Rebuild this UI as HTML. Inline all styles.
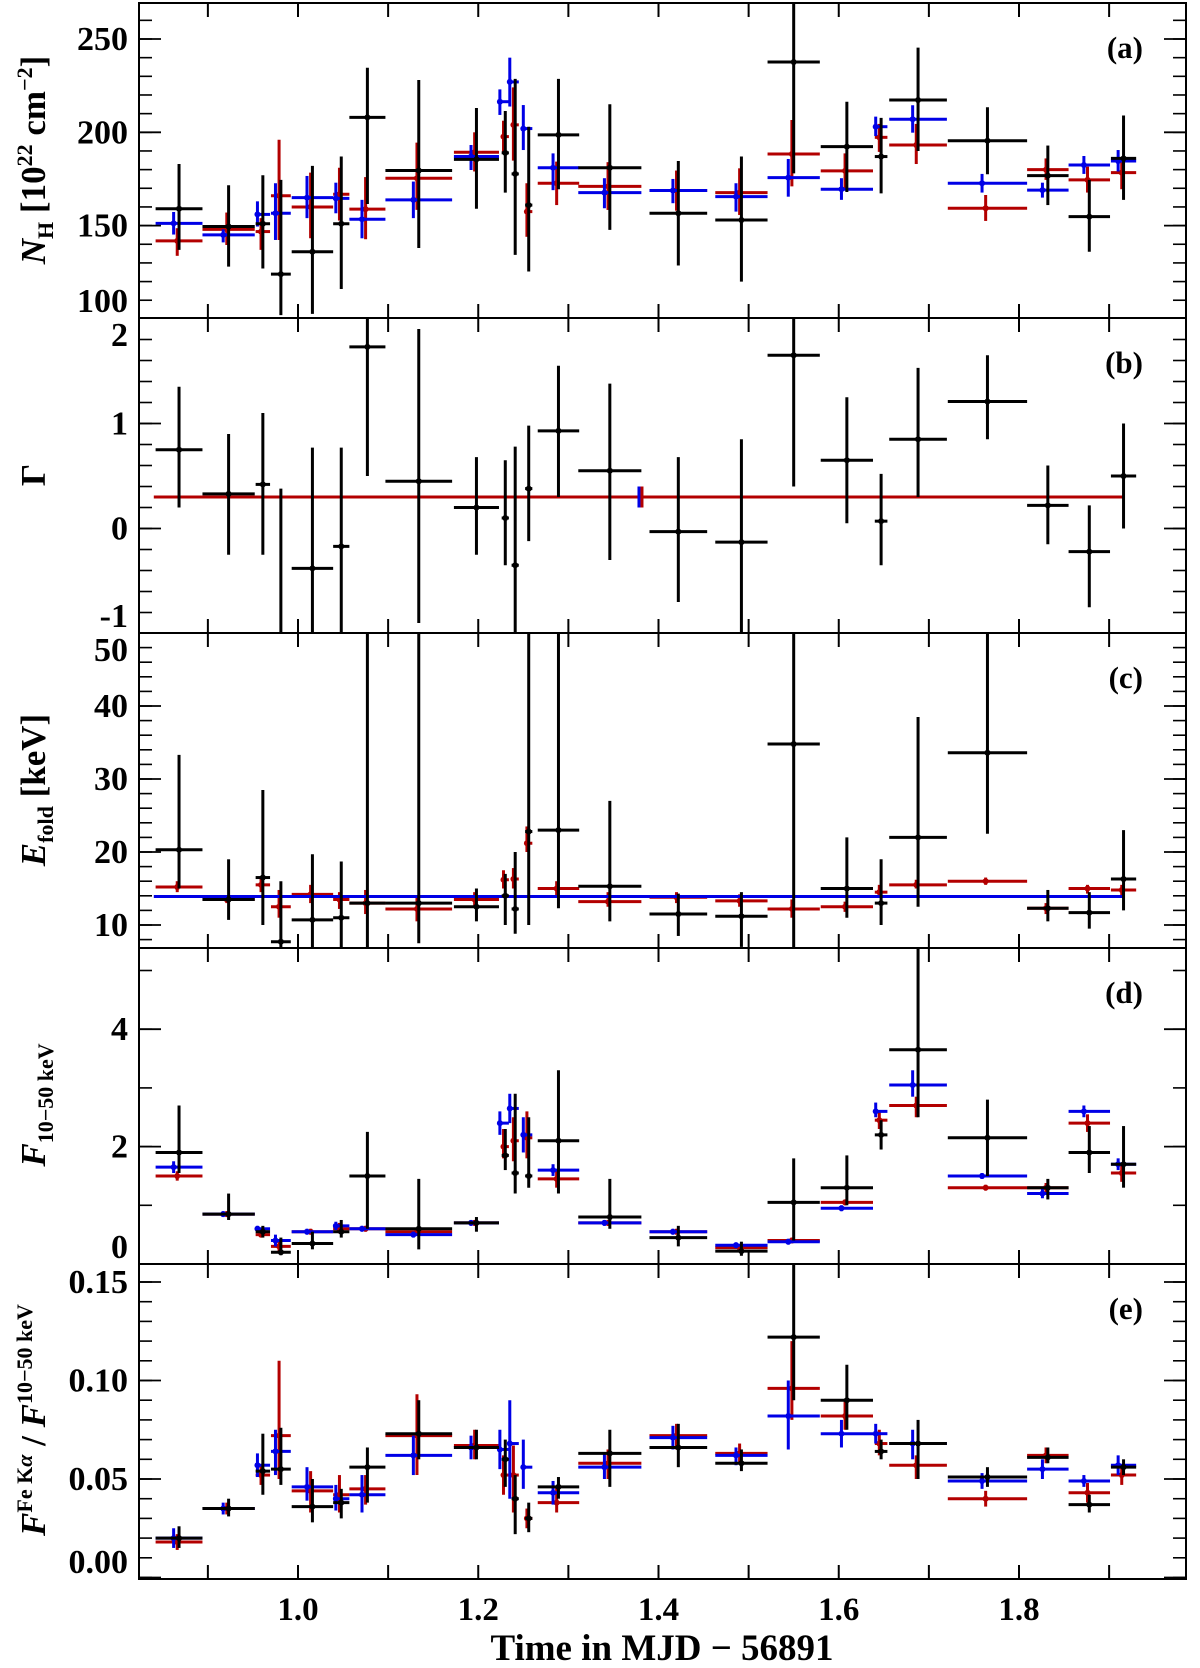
<!DOCTYPE html>
<html><head><meta charset="utf-8"><style>
body{margin:0;background:#fff;}
svg{display:block;font-family:"Liberation Serif",serif;}
</style></head><body>
<svg id="chart" width="1200" height="1668" viewBox="0 0 1200 1668" xmlns="http://www.w3.org/2000/svg">
<rect width="1200" height="1668" fill="#fff"/>
</svg>
<script>
// ---------- data ----------
const binCenters=[0.868,0.923,0.961,0.981,1.016,1.048,1.077,1.134,1.198,1.230,1.241,1.256,1.289,1.346,1.422,1.492,1.550,1.609,1.647,1.688,1.765,1.832,1.878,1.916];
const binHalf=[0.026,0.029,0.008,0.011,0.023,0.009,0.02,0.037,0.025,0.004,0.004,0.004,0.023,0.035,0.032,0.029,0.029,0.029,0.007,0.032,0.044,0.023,0.023,0.014];

// panel a: NH
const nhBlack=[159,149.5,151,124,136,151,208,179.5,185.5,189,177.7,161,198.6,181,156.6,153,237.7,192.3,187,217.3,195.5,176.8,154.8,186];
const nhBlackLo=[137,128,127,102,102.7,116,161.6,138,159,167.7,134.3,125.4,169.5,147.7,128.6,120,178,168,167.3,190,177.5,161,136,163.8];
const nhBlackHi=[183,171.6,177,174.5,182,187,234.6,228,213,211.4,228.6,203,228.6,215,184.6,187,275,216.4,207.7,245.4,213.4,192.9,174.5,209];
const nhRed=[141.8,148,146.8,166,160,166.8,158.8,175.4,189.3,197.7,204,157.5,172.7,171,168.8,167.7,188.4,179.3,197.3,193.2,159.3,180,174.5,178.4];
const nhRedLo=[133.8,139.6,137,142.3,143.2,152.7,142.7,158.4,179,188.7,184.8,144,161,158.4,158,155.7,171,169,189.5,183,152.5,174.5,167.7,169.5];
const nhRedHi=[148.6,157,154,196,178.4,181,176,194.5,200,206.2,224.1,172.7,184.3,184,179.5,180.7,206.6,188.7,204.5,204.5,166.4,186,181.6,185];
const nhBlue=[151.2,145,156,156.6,165,164.6,153.4,163.8,187,216.4,227,202,181,167.7,168.8,165.5,175.7,169.5,203,207,172.7,169,182.5,184.6];
const nhBlueLo=[145.2,141,149.5,142.3,154,156.6,143.2,154,179.8,209.3,213.8,190.5,169,159.3,162,157.5,165.5,163.8,198,199.8,167.7,165,177.7,179];
const nhBlueHi=[157.3,148,163,172.7,176.6,173,163.8,173.6,193.2,223,240,214.6,188.7,175.4,175,172.7,185.7,175.4,208.4,214.5,177.7,173,187.3,190.5];

// panel b: Gamma
const gamBlack=[0.75,0.33,0.42,-1.03,-0.38,-0.17,1.73,0.45,0.2,0.1,-0.35,0.38,0.93,0.55,-0.03,-0.13,1.65,0.65,0.07,0.85,1.21,0.22,-0.22,0.5];
const gamBlackLo=[0.2,-0.25,-0.25,-1.3,-1.3,-1.3,0.5,-0.9,-0.25,-0.35,-1.3,-0.12,0.3,-0.3,-0.7,-1.0,0.4,0.05,-0.35,0.3,0.85,-0.15,-0.75,0.0];
const gamBlackHi=[1.35,0.9,1.1,0.38,0.77,0.77,2.3,1.9,0.68,0.65,0.78,0.98,1.55,1.38,0.68,0.85,2.3,1.25,0.52,1.53,1.65,0.6,0.22,1.0];
const gamFixed=[0.3];
const gamFixedRange=[0.84,1.915];
const gamMarkX=[1.38];
const gamMarkLo=[0.2];
const gamMarkHi=[0.4];

// panel c: Efold
const efBlack=[20.3,13.5,16.5,7.7,10.7,11,13,13,12.5,14,12.2,22.8,23,15.3,11.5,11.2,34.8,15,13,22,33.6,12.3,11.7,16.3];
const efBlackLo=[15,10.7,10,6,6,6,6,7.5,10.5,10,8.8,10,12.3,10.5,8.5,7,6,11,10,12.5,22.5,10.5,9.5,12];
const efBlackHi=[33.3,19,28.5,16,19.7,18.7,55,50.5,15,17,20,55,50.5,27,14.3,14.5,55,22,19,38.5,55,14.8,14.5,23];
const efRed=[15.2,13.5,15.5,12.5,14.2,13.5,13,12.2,13.5,16.2,16.3,21.2,15,13.2,13.8,13.3,12.2,12.5,14.5,15.5,16,12.3,15,14.8];
const efRedLo=[14.5,13,14.5,11,13,12.2,11.5,10.5,12.5,15,15,20,14,12.5,13,12.5,11,11.8,14,15,15.5,11.5,14.3,14];
const efRedHi=[16,14,16.5,14.8,15.5,14.5,14.8,14,14.5,17.5,17.8,23.5,16,14.5,14.5,14.2,13.5,13.2,15.5,16.2,16.5,13,15.5,15.5];
const efBlueFixed=[13.9];

// panel d: F 10-50 keV
const fBlack=[1.9,0.85,0.55,0.2,0.35,0.55,1.5,0.6,0.7,1.85,1.55,1.5,2.1,0.8,0.45,0.22,1.05,1.3,2.2,3.65,2.15,1.3,1.9,1.7];
const fBlackLo=[1.55,0.75,0.45,0.15,0.25,0.45,0.6,0.25,0.55,1.6,1.2,1.3,1.2,0.6,0.3,0.14,0.4,1.0,1.95,2.5,1.5,1.1,1.55,1.3];
const fBlackHi=[2.7,1.2,0.65,0.45,0.55,0.75,2.25,1.45,0.8,2.3,2.9,2.5,3.3,1.45,0.65,0.38,1.8,1.85,2.45,5.6,2.8,1.45,2.35,2.35];
const fRed=[1.5,0.85,0.5,0.3,0.55,0.6,0.6,0.55,0.7,2.0,2.1,2.15,1.45,0.7,0.55,0.28,0.4,1.05,2.45,2.7,1.3,1.3,2.4,1.55];
const fRedLo=[1.42,0.8,0.45,0.22,0.5,0.52,0.55,0.5,0.65,1.8,1.75,1.8,1.3,0.65,0.5,0.23,0.35,1.0,2.3,2.5,1.25,1.22,2.25,1.4];
const fRedHi=[1.58,0.9,0.58,0.4,0.6,0.7,0.65,0.6,0.75,2.3,2.5,2.6,1.6,0.75,0.6,0.33,0.45,1.1,2.6,2.85,1.35,1.38,2.55,1.7];
const fBlue=[1.65,0.85,0.6,0.4,0.55,0.65,0.6,0.5,0.7,2.4,2.65,2.2,1.6,0.7,0.55,0.32,0.38,0.95,2.6,3.05,1.5,1.2,2.6,1.7];
const fBlueLo=[1.55,0.8,0.55,0.3,0.5,0.58,0.55,0.45,0.65,2.2,2.4,1.9,1.5,0.65,0.5,0.27,0.33,0.9,2.5,2.85,1.45,1.12,2.5,1.6];
const fBlueHi=[1.75,0.9,0.65,0.5,0.6,0.72,0.65,0.55,0.75,2.6,2.9,2.5,1.7,0.75,0.6,0.37,0.43,1.0,2.75,3.3,1.55,1.28,2.7,1.8];

// panel e: Fe Ka ratio
const rBlack=[0.02,0.035,0.054,0.055,0.036,0.038,0.056,0.073,0.066,0.06,0.04,0.03,0.046,0.063,0.066,0.058,0.122,0.09,0.064,0.068,0.051,0.061,0.037,0.056];
const rBlackLo=[0.015,0.031,0.042,0.047,0.028,0.03,0.038,0.06,0.06,0.046,0.022,0.023,0.04,0.046,0.056,0.054,0.09,0.075,0.06,0.05,0.046,0.058,0.033,0.052];
const rBlackHi=[0.026,0.04,0.073,0.076,0.05,0.045,0.066,0.09,0.075,0.07,0.052,0.038,0.051,0.075,0.078,0.065,0.16,0.108,0.07,0.08,0.056,0.066,0.042,0.06];
const rRed=[0.018,0.035,0.052,0.072,0.044,0.042,0.045,0.072,0.067,0.052,0.052,0.03,0.038,0.058,0.072,0.063,0.096,0.082,0.068,0.057,0.04,0.062,0.043,0.052];
const rRedLo=[0.014,0.032,0.047,0.05,0.033,0.033,0.037,0.052,0.06,0.042,0.033,0.025,0.033,0.05,0.065,0.058,0.08,0.075,0.062,0.05,0.036,0.058,0.038,0.047];
const rRedHi=[0.022,0.038,0.057,0.11,0.054,0.052,0.052,0.093,0.075,0.062,0.067,0.035,0.046,0.065,0.078,0.068,0.12,0.09,0.075,0.062,0.044,0.066,0.048,0.057];
const rBlue=[0.02,0.035,0.057,0.064,0.046,0.04,0.042,0.062,0.066,0.065,0.068,0.056,0.043,0.056,0.071,0.062,0.082,0.073,0.073,0.068,0.049,0.055,0.049,0.057];
const rBlueLo=[0.015,0.032,0.051,0.052,0.039,0.034,0.033,0.052,0.06,0.055,0.04,0.045,0.037,0.05,0.065,0.057,0.065,0.066,0.068,0.06,0.045,0.05,0.046,0.052];
const rBlueHi=[0.025,0.038,0.063,0.075,0.056,0.047,0.052,0.072,0.072,0.075,0.09,0.07,0.049,0.063,0.077,0.066,0.1,0.08,0.078,0.075,0.053,0.06,0.052,0.062];

const xTickValues=[0.9,1.0,1.1,1.2,1.3,1.4,1.5,1.6,1.7,1.8,1.9];
const xTickLabels=["1.0","1.2","1.4","1.6","1.8"];

// ---------- layout ----------
const NS="http://www.w3.org/2000/svg";
const svg=document.getElementById('chart');
const L=139,R=1186;
const xs=v=>298+(v-1)*901.25;
const RED="#b30000",BLUE="#0000e6",BLACK="#000";
function mk(tag,attrs,parent){const e=document.createElementNS(NS,tag);for(const k in attrs)e.setAttribute(k,attrs[k]);(parent||svg).appendChild(e);return e;}

const panels=[
 {id:'a',top:3,bot:318,y:v=>39+(250-v)*1.866,major:[100,150,200,250],minor:{from:100,to:260,step:10},fmt:v=>String(v)},
 {id:'b',top:318,bot:633,y:v=>528.5-v*105,major:[-1,0,1,2],minor:{from:-1.2,to:2,step:0.2},fmt:v=>String(v)},
 {id:'c',top:633,bot:948,y:v=>925-(v-10)*7.3,major:[10,20,30,40,50],minor:{from:8,to:50,step:2},fmt:v=>String(v)},
 {id:'d',top:948,bot:1264,y:v=>1264-v*58.7,major:[0,2,4],minor:{from:0,to:5,step:1},fmt:v=>String(v)},
 {id:'e',top:1264,bot:1579,y:v=>1282-(v-0.15)*1970,major:[0,0.05,0.1,0.15],minor:{from:0,to:0.15,step:0.01},fmt:v=>v.toFixed(2)}
];

const defs=mk('defs',{});
panels.forEach(p=>{
  const cp=mk('clipPath',{id:'clip-'+p.id},defs);
  mk('rect',{x:L,y:p.top,width:R-L,height:p.bot-p.top},cp);
});

function series(p,g,vals,lo,hi,color,dx){
  for(let i=0;i<vals.length;i++){
    const c=binCenters[i],w=binHalf[i];
    const cx=xs(c+dx);
    const h=mk('line',{x1:xs(c-w),x2:xs(c+w),y1:p.y(vals[i]),y2:p.y(vals[i]),stroke:color,'stroke-width':3},g);
    
    
    const v=mk('line',{x1:cx,x2:cx,y1:p.y(lo[i]),y2:p.y(hi[i]),stroke:color,'stroke-width':3},g);
    
    
    const d=mk('circle',{cx:cx,cy:p.y(vals[i]),r:3,fill:color},g);
    
    
  }
}

panels.forEach((p,pi)=>{
  const g=mk('g',{'clip-path':'url(#clip-'+p.id+')'});
  
  
  if(p.id==='a'){series(p,g,nhRed,nhRedLo,nhRedHi,RED,-0.002);series(p,g,nhBlue,nhBlueLo,nhBlueHi,BLUE,-0.006);series(p,g,nhBlack,nhBlackLo,nhBlackHi,BLACK,0);}
  if(p.id==='b'){
    const fl=mk('line',{x1:xs(gamFixedRange[0]),x2:xs(gamFixedRange[1]),y1:p.y(gamFixed[0]),y2:p.y(gamFixed[0]),stroke:RED,'stroke-width':3},g);
    
    
    const m1=mk('line',{x1:xs(gamMarkX[0])-1.5,x2:xs(gamMarkX[0])-1.5,y1:p.y(gamMarkLo[0]),y2:p.y(gamMarkHi[0]),stroke:BLUE,'stroke-width':3},g);
    
    
    const m2=mk('line',{x1:xs(gamMarkX[0])+1.5,x2:xs(gamMarkX[0])+1.5,y1:p.y(gamMarkLo[0]),y2:p.y(gamMarkHi[0]),stroke:RED,'stroke-width':3},g);
    
    
    series(p,g,gamBlack,gamBlackLo,gamBlackHi,BLACK,0);
  }
  if(p.id==='c'){
    series(p,g,efRed,efRedLo,efRedHi,RED,-0.002);
    const bl=mk('line',{x1:xs(gamFixedRange[0]),x2:xs(gamFixedRange[1]),y1:p.y(efBlueFixed[0]),y2:p.y(efBlueFixed[0]),stroke:BLUE,'stroke-width':3},g);
    
    
    series(p,g,efBlack,efBlackLo,efBlackHi,BLACK,0);
  }
  if(p.id==='d'){series(p,g,fRed,fRedLo,fRedHi,RED,-0.002);series(p,g,fBlue,fBlueLo,fBlueHi,BLUE,-0.006);series(p,g,fBlack,fBlackLo,fBlackHi,BLACK,0);}
  if(p.id==='e'){series(p,g,rRed,rRedLo,rRedHi,RED,-0.002);series(p,g,rBlue,rBlueLo,rBlueHi,BLUE,-0.006);series(p,g,rBlack,rBlackLo,rBlackHi,BLACK,0);}

  // frame
  const fr=mk('rect',{x:L,y:p.top,width:R-L,height:p.bot-p.top,fill:'none',stroke:'#000','stroke-width':2});
  
  
  // x ticks
  xTickValues.forEach(t=>{
    mk('line',{x1:xs(t),x2:xs(t),y1:p.top,y2:p.top+14,stroke:'#000','stroke-width':2});
    mk('line',{x1:xs(t),x2:xs(t),y1:p.bot,y2:p.bot-14,stroke:'#000','stroke-width':2});
  });
  // y minor ticks
  for(let v=p.minor.from;v<=p.minor.to+1e-9;v+=p.minor.step){
    const y=p.y(v); if(y<p.top+1||y>p.bot-1)continue;
    mk('line',{x1:L,x2:L+13,y1:y,y2:y,stroke:'#000','stroke-width':1.6});
    mk('line',{x1:R,x2:R-13,y1:y,y2:y,stroke:'#000','stroke-width':1.6});
  }
  p.major.forEach(v=>{
    const y=p.y(v);
    if(y>=p.top+1&&y<=p.bot-1){
      mk('line',{x1:L,x2:L+22,y1:y,y2:y,stroke:'#000','stroke-width':1.8});
      mk('line',{x1:R,x2:R-22,y1:y,y2:y,stroke:'#000','stroke-width':1.8});
    }
    const ly=Math.min(Math.max(y,p.top+17),p.bot-17);
    const t=mk('text',{x:128,y:ly+11,'text-anchor':'end','font-size':34,'font-weight':'bold'});
    t.textContent=p.fmt(v);
    
    
  });
  const pl=mk('text',{x:1143,y:p.top+55,'text-anchor':'end','font-size':31,'font-weight':'bold'});
  pl.textContent='('+p.id+')';
  
  
});

xTickLabels.forEach(s=>{
  const t=mk('text',{x:xs(parseFloat(s)),y:1620,'text-anchor':'middle','font-size':33,'font-weight':'bold'});
  t.textContent=s;
  
  
});
</script>
<svg style="position:absolute;left:0;top:0" width="1200" height="1668">
<g font-family="Liberation Serif, serif" font-weight="bold" font-size="35" fill="#000">
<text x="662" y="1660" text-anchor="middle" font-size="37">Time in MJD − 56891</text>
<text transform="translate(45,160) rotate(-90)" text-anchor="middle"><tspan font-style="italic">N</tspan><tspan font-size="22" dy="8">H</tspan><tspan dy="-8"> [10</tspan><tspan font-size="22" dy="-13">22</tspan><tspan dy="13"> cm</tspan><tspan font-size="22" dy="-13">−2</tspan><tspan dy="13">]</tspan></text>
<text transform="translate(45,475) rotate(-90)" text-anchor="middle">Γ</text>
<text transform="translate(45,790) rotate(-90)" text-anchor="middle"><tspan font-style="italic">E</tspan><tspan font-size="22" dy="8">fold</tspan><tspan dy="-8"> [keV]</tspan></text>
<text transform="translate(45,1105) rotate(-90)" text-anchor="middle"><tspan font-style="italic">F</tspan><tspan font-size="22" dy="8">10−50 keV</tspan></text>
<text transform="translate(45,1420) rotate(-90)" text-anchor="middle"><tspan font-style="italic">F</tspan><tspan font-size="22" dy="-13">Fe K</tspan><tspan font-size="22" font-style="italic">α</tspan><tspan dy="13"> / </tspan><tspan font-style="italic">F</tspan><tspan font-size="22" dy="-13">10−50 keV</tspan></text>
</g>
</svg>
</body></html>
